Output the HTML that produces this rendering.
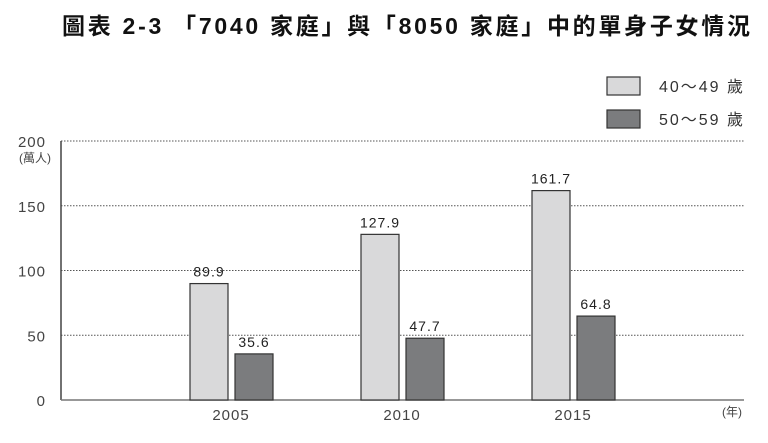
<!DOCTYPE html>
<html><head><meta charset="utf-8"><style>
body{margin:0;width:768px;height:443px;background:#fff;overflow:hidden}
svg{display:block}
</style></head><body>
<svg id="c" width="768" height="443" xmlns="http://www.w3.org/2000/svg">
<text x="62" y="34" textLength="688" lengthAdjust="spacing" font-family="'Liberation Sans','Noto Sans CJK TC',sans-serif" font-size="23" font-weight="bold" fill="#111">圖表 2-3 「7040 家庭」與「8050 家庭」中的單身子女情況</text>
<g>
<rect x="607" y="77" width="33" height="18" fill="#d9d9da" stroke="#333" stroke-width="1.2"/>
<text x="659" y="92" textLength="84" lengthAdjust="spacing" font-family="'Liberation Sans','Noto Sans CJK TC',sans-serif" font-size="16" fill="#333">40～49 歲</text>
<rect x="607" y="110" width="33" height="18" fill="#7b7c7e" stroke="#333" stroke-width="1.2"/>
<text x="659" y="125" textLength="84" lengthAdjust="spacing" font-family="'Liberation Sans','Noto Sans CJK TC',sans-serif" font-size="16" fill="#333">50～59 歲</text>
</g>
<text x="35" y="162" text-anchor="middle" font-family="'Liberation Sans','Noto Sans CJK TC',sans-serif" font-size="12" fill="#444">(萬人)</text>
<text x="722" y="416" font-family="'Liberation Sans','Noto Sans CJK TC',sans-serif" font-size="12" fill="#444">(年)</text>
<g id="grid"></g><g id="bars"></g><g id="labels"></g>
</svg>
<script>
const categories=["2005","2010","2015"];
const series40=[89.9,127.9,161.7];
const series50=[35.6,47.7,64.8];
const yTicks=[0,50,100,150,200];
const NS="http://www.w3.org/2000/svg";
const y0=400,yTop=141,xL=61,xR=744;
function y(v){return y0-(v/200)*(y0-yTop);}
function xc(i){return 231+i*171;}
function mk(tag,attrs,parent,text){const e=document.createElementNS(NS,tag);for(const k in attrs)e.setAttribute(k,attrs[k]);if(text!==undefined)e.textContent=text;parent.appendChild(e);return e;}
const grid=document.getElementById('grid'),bars=document.getElementById('bars'),labels=document.getElementById('labels');
const F="'Liberation Sans','Noto Sans CJK TC',sans-serif";
yTicks.forEach(t=>{
  if(t>0){const g=mk('line',{x1:xL,x2:xR,y1:y(t),y2:y(t),stroke:'#555','stroke-width':1,'stroke-dasharray':'1.5,1.5'},grid);
  
  }
  const l=mk('text',{x:46,y:y(t)+6,'text-anchor':'end','font-family':F,'font-size':15,fill:'#444','letter-spacing':1},grid,String(t));
  
  
});
const ax=mk('line',{x1:xL,x2:xL,y1:yTop,y2:y0,stroke:'#444','stroke-width':1.5},grid);


const bx=mk('line',{x1:xL,x2:xR,y1:y0,y2:y0,stroke:'#777','stroke-width':1.5},grid);


categories.forEach((c,i)=>{
  const cx=xc(i),w=38;
  [[series40[i],cx-41,'#d9d9da','40-49'],[series50[i],cx+4,'#7b7c7e','50-59']].forEach(([v,x,f,n])=>{
    const r=mk('rect',{x:x,y:y(v),width:w,height:y0-y(v),fill:f,stroke:'#333','stroke-width':1.2},bars);
    
    
    const t=mk('text',{x:x+w/2,y:y(v)-7,'text-anchor':'middle','font-family':F,'font-size':14,fill:'#222','letter-spacing':1},labels,v.toFixed(1));
    
    
  });
  const xl=mk('text',{x:cx,y:420,'text-anchor':'middle','font-family':F,'font-size':15,fill:'#444','letter-spacing':1},labels,c);
  
  
});
</script>
</body></html>
